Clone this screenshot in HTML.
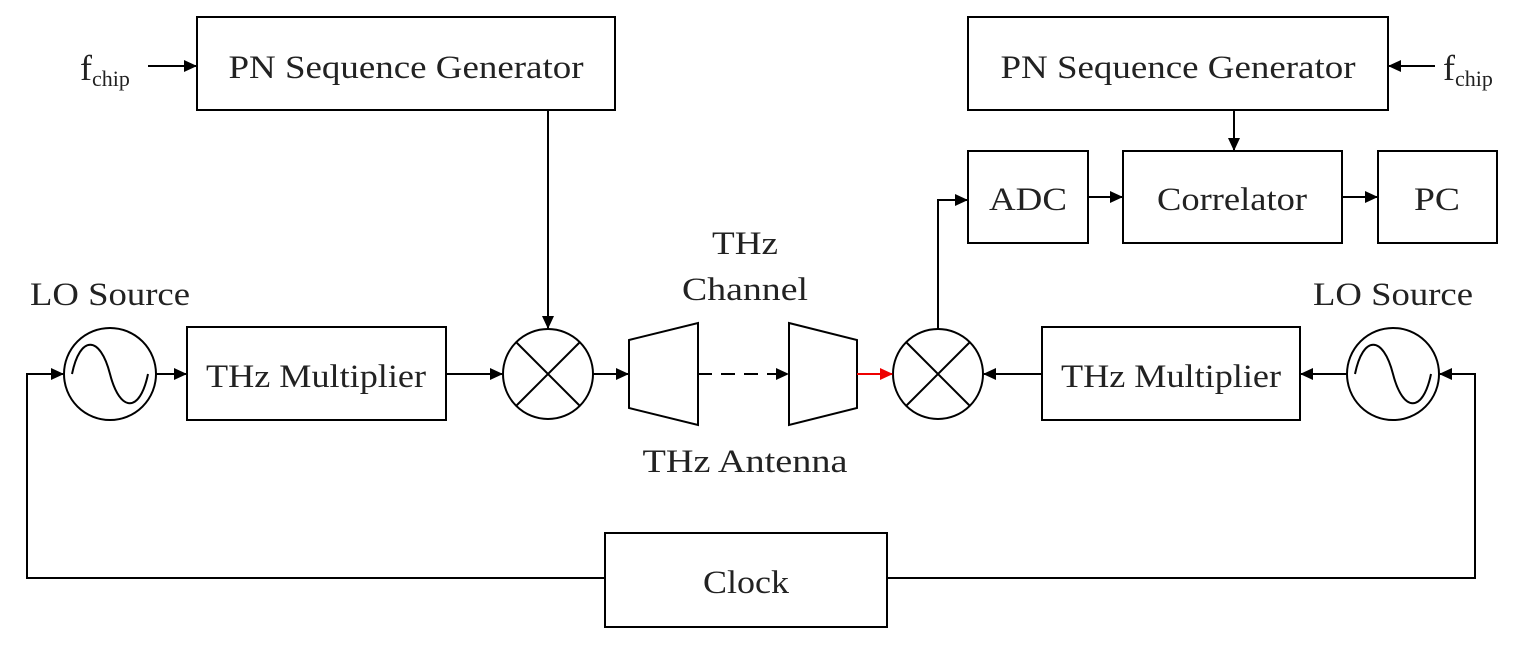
<!DOCTYPE html>
<html><head><style>body{margin:0;background:#fff}</style></head><body>
<svg width="1529" height="646" xmlns="http://www.w3.org/2000/svg" font-family="Liberation Serif, serif" fill="none" stroke="#000" stroke-width="2">
<defs>
<marker id="a" markerWidth="13" markerHeight="12" refX="12" refY="6" orient="auto" markerUnits="userSpaceOnUse"><path d="M0,0L13,6L0,12z" fill="#000" stroke="none"/></marker>
<marker id="r" markerWidth="13" markerHeight="12" refX="12" refY="6" orient="auto" markerUnits="userSpaceOnUse"><path d="M0,0L13,6L0,12z" fill="#e00" stroke="none"/></marker>
</defs>
<rect x="197" y="17" width="418" height="93"/>
<rect x="968" y="17" width="420" height="93"/>
<rect x="968" y="151" width="120" height="92"/>
<rect x="1123" y="151" width="219" height="92"/>
<rect x="1378" y="151" width="119" height="92"/>
<rect x="187" y="327" width="259" height="93"/>
<rect x="1042" y="327" width="258" height="93"/>
<rect x="605" y="533" width="282" height="94"/>
<circle cx="110" cy="374" r="46"/>
<path d="M72,374 C80,335 100,335 110,374 C120,413 140,413 148,374"/>
<circle cx="1393" cy="374" r="46"/>
<path d="M1355,374 C1363,335 1383,335 1393,374 C1403,413 1423,413 1431,374"/>
<circle cx="548" cy="374" r="45"/>
<path d="M516,342L580,406M580,342L516,406"/>
<circle cx="938" cy="374" r="45"/>
<path d="M906,342L970,406M970,342L906,406"/>
<path d="M629,340L698,323L698,425L629,408Z"/>
<path d="M789,323L857,340L857,408L789,425Z"/>
<path d="M148,66H196" marker-end="url(#a)"/>
<path d="M1435,66H1389" marker-end="url(#a)"/>
<path d="M1234,110V150" marker-end="url(#a)"/>
<path d="M1088,197H1122" marker-end="url(#a)"/>
<path d="M1342,197H1377" marker-end="url(#a)"/>
<path d="M548,110V328" marker-end="url(#a)"/>
<path d="M156,374H186" marker-end="url(#a)"/>
<path d="M446,374H502" marker-end="url(#a)"/>
<path d="M593,374H628" marker-end="url(#a)"/>
<path d="M698,374H788" stroke-dasharray="14,9" marker-end="url(#a)"/>
<path d="M857,374H892" stroke="#e00" marker-end="url(#r)"/>
<path d="M1042,374H984" marker-end="url(#a)"/>
<path d="M1347,374H1301" marker-end="url(#a)"/>
<path d="M938,329V200H967" marker-end="url(#a)"/>
<path d="M605,578H27V374H63" marker-end="url(#a)"/>
<path d="M887,578H1475V374H1440" marker-end="url(#a)"/>
<g fill="#222" stroke="none" font-size="33" text-anchor="middle">
<text x="406" y="78" textLength="355" lengthAdjust="spacingAndGlyphs">PN Sequence Generator</text>
<text x="1178" y="78" textLength="355" lengthAdjust="spacingAndGlyphs">PN Sequence Generator</text>
<text x="1028" y="210" textLength="78" lengthAdjust="spacingAndGlyphs">ADC</text>
<text x="1232" y="210" textLength="150" lengthAdjust="spacingAndGlyphs">Correlator</text>
<text x="1437" y="210" textLength="46" lengthAdjust="spacingAndGlyphs">PC</text>
<text x="316" y="387" textLength="220" lengthAdjust="spacingAndGlyphs">THz Multiplier</text>
<text x="1171" y="387" textLength="220" lengthAdjust="spacingAndGlyphs">THz Multiplier</text>
<text x="746" y="593" textLength="86" lengthAdjust="spacingAndGlyphs">Clock</text>
<text x="110" y="305" textLength="160" lengthAdjust="spacingAndGlyphs">LO Source</text>
<text x="1393" y="305" textLength="160" lengthAdjust="spacingAndGlyphs">LO Source</text>
<text x="745" y="254" textLength="66" lengthAdjust="spacingAndGlyphs">THz</text>
<text x="745" y="300" textLength="126" lengthAdjust="spacingAndGlyphs">Channel</text>
<text x="745" y="472" textLength="205" lengthAdjust="spacingAndGlyphs">THz Antenna</text>
<text x="80" y="80" text-anchor="start" font-size="36">f<tspan font-size="22" dy="6">chip</tspan></text>
<text x="1443" y="80" text-anchor="start" font-size="36">f<tspan font-size="22" dy="6">chip</tspan></text>
</g>
</svg>
</body></html>
